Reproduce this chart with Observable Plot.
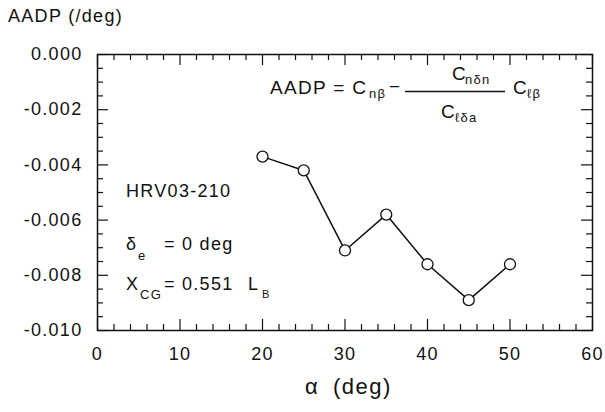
<!DOCTYPE html>
<html>
<head>
<meta charset="utf-8">
<script src="https://cdn.jsdelivr.net/npm/d3@7"></script>
<script src="https://cdn.jsdelivr.net/npm/@observablehq/plot@0.6"></script>
<style>
  html, body { margin: 0; padding: 0; background: #fff; }
  svg text { fill: #111; }
</style>
</head>
<body>
<div id="chart"></div>
<script>
// Data
const alpha = [20, 25, 30, 35, 40, 45, 50];
const aadp = [-0.0037, -0.0042, -0.0071, -0.0058, -0.0076, -0.0089, -0.0076];

// Tick positions / labels
const xMajor = [0, 10, 20, 30, 40, 50, 60];
const xMinor = d3.range(0, 61, 2).filter(v => v % 10 !== 0);
const yMajor = [0, -0.002, -0.004, -0.006, -0.008, -0.010];
const yMinor = d3.range(0, 21).map(i => -i * 0.0005).filter((v, i) => i % 4 !== 0);

const yLabel = "AADP (/deg)";
const xLabelSym = "α";
const xLabelUnit = "(deg)";

const data = alpha.map((a, i) => ({alpha: a, aadp: aadp[i]}));

const W = 605, H = 412;
const mL = 97, mR = 13, mT = 54, mB = 82;
const innerH = H - mT - mB, innerW = W - mL - mR;
const majLen = 11, minLen = 6;

const chart = Plot.plot({
  width: W,
  height: H,
  marginLeft: mL,
  marginRight: mR,
  marginTop: mT,
  marginBottom: mB,
  style: {
    fontFamily: "'Liberation Sans', Arial, Helvetica, sans-serif",
    fontSize: "18px",
    letterSpacing: "1.3px",
    background: "#fff",
    color: "#111"
  },
  x: {domain: [0, 60], axis: null},
  y: {domain: [-0.010, 0], axis: null},
  marks: [
    // ticks (inward)
    Plot.tickX(xMajor, {x: d => d, insetTop: innerH - majLen, stroke: "#111", strokeWidth: 1.2}),
    Plot.tickX(xMajor, {x: d => d, insetBottom: innerH - majLen, stroke: "#111", strokeWidth: 1.2}),
    Plot.tickX(xMinor, {x: d => d, insetTop: innerH - minLen, stroke: "#111", strokeWidth: 1.2}),
    Plot.tickX(xMinor, {x: d => d, insetBottom: innerH - minLen, stroke: "#111", strokeWidth: 1.2}),
    Plot.tickY(yMajor, {y: d => d, insetRight: innerW - majLen, stroke: "#111", strokeWidth: 1.2}),
    Plot.tickY(yMajor, {y: d => d, insetLeft: innerW - majLen, stroke: "#111", strokeWidth: 1.2}),
    Plot.tickY(yMinor, {y: d => d, insetRight: innerW - minLen, stroke: "#111", strokeWidth: 1.2}),
    Plot.tickY(yMinor, {y: d => d, insetLeft: innerW - minLen, stroke: "#111", strokeWidth: 1.2}),
    Plot.frame({stroke: "#111", strokeWidth: 1.5}),
    // axis labels
    Plot.axisX({ticks: xMajor, tickSize: 0, tickPadding: 17, label: null, tickFormat: d => String(d)}),
    Plot.axisY({ticks: yMajor, tickSize: 0, tickPadding: 15, label: null, tickFormat: d => d.toFixed(3)}),
    // data
    Plot.line(data, {x: "alpha", y: "aadp", stroke: "#111", strokeWidth: 1.5}),
    Plot.dot(data, {x: "alpha", y: "aadp", r: 5.5, fill: "#fff", stroke: "#111", strokeWidth: 1.3})
  ]
});

document.getElementById("chart").appendChild(chart);

const svg = d3.select(chart);
const ff = "'Liberation Sans', Arial, Helvetica, sans-serif";

function txt(x, y, s, size) {
  return svg.append("text")
    .attr("x", x).attr("y", y)
    .attr("text-anchor", "start")
    .attr("font-family", ff)
    .attr("font-size", size)
    .attr("letter-spacing", "1.3px")
    .attr("fill", "#111")
    .text(s);
}

// axis titles
txt(8, 22, yLabel, 18);
txt(305, 394, xLabelSym, 22).attr("letter-spacing", "0px");
txt(333, 394, xLabelUnit, 22).attr("letter-spacing", "1.5px");

// left annotations
txt(126, 197, "HRV03-210", 18);
txt(126, 250, "δ", 18);
txt(138, 260, "e", 13);
txt(164, 250, "=", 18);
txt(182, 250, "0 deg", 18);
txt(126, 290, "X", 18);
txt(140, 299, "CG", 13);
txt(164, 290, "=", 18);
txt(182, 290, "0.551", 18);
txt(248, 290, "L", 18);
txt(262, 298, "B", 11);

// formula
txt(270, 94, "AADP = C", 19);
txt(369, 98, "nβ", 13);
txt(389, 93, "−", 19).attr("letter-spacing", "0px");
svg.append("line")
  .attr("x1", 405).attr("x2", 505)
  .attr("y1", 91.5).attr("y2", 91.5)
  .attr("stroke", "#111").attr("stroke-width", 1.4);
txt(452, 80, "C", 19);
txt(465, 84, "nδn", 13);
txt(441, 118, "C", 19);
txt(455, 122, "ℓδa", 13);
txt(513, 94, "C", 19);
txt(527, 98, "ℓβ", 13);
</script>
</body>
</html>
